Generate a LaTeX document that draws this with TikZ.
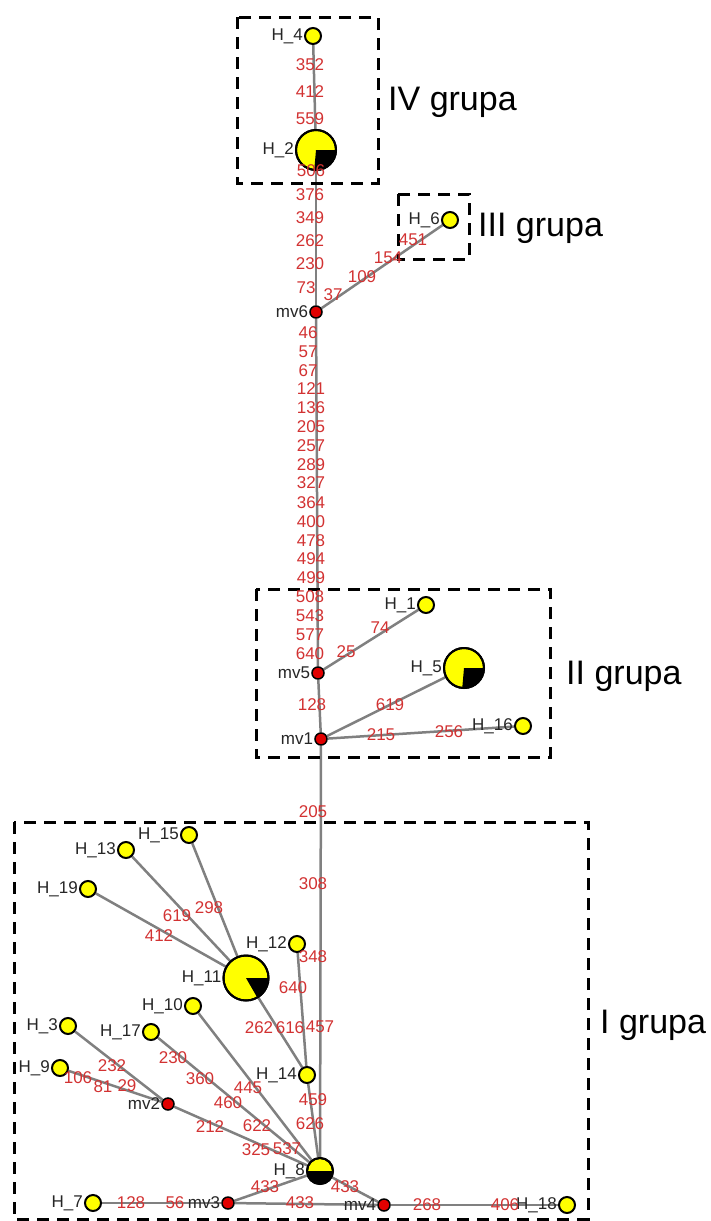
\documentclass[tikz,border=0pt]{standalone}
\usepackage{fontspec}
\setmainfont{Liberation Sans}
\pgfdeclarelayer{bg}
\pgfsetlayers{bg,main}
\definecolor{labred}{RGB}{210,50,50}
\definecolor{edgegray}{RGB}{128,128,128}
\definecolor{nodered}{RGB}{225,0,0}
\definecolor{hyellow}{RGB}{255,255,0}
\tikzset{
 hap/.style={circle, draw=black, line width=2pt, fill=hyellow, minimum size=16pt, inner sep=0pt},
 mvnode/.style={circle, draw=black, line width=1.5pt, fill=nodered, minimum size=12pt, inner sep=0pt},
 nlab/.style={font=\fontsize{17}{17}\selectfont, text=black!85, inner sep=1pt},
 elab/.style={font=\fontsize{17}{17}\selectfont, text=labred, inner sep=0pt},
 conn/.style={draw=edgegray, line width=2.5pt},
 grpbox/.style={draw=black, line width=3pt, dash pattern=on 12pt off 8pt},
 grplab/.style={font=\fontsize{34}{34}\selectfont, anchor=west, inner sep=0pt},
}
\begin{document}
\begin{tikzpicture}[x=1pt,y=-1pt]
\useasboundingbox (0,0) rectangle (711,1221);
% group boxes
\draw[grpbox] (237,17) rectangle (378,183);
\draw[grpbox] (398,194) rectangle (469,259);
\draw[grpbox] (256,589) rectangle (550,757);
\draw[grpbox] (14,822) rectangle (588,1219);
\node[grplab] (g4) at (388,102) {IV grupa};
\node[grplab] (g3) at (478,228) {III grupa};
\node[grplab] (g2) at (566,676) {II grupa};
\node[grplab] (g1) at (600,1025) {I grupa};
% haplotype nodes
\node[hap, label={[nlab]left:H\_4}] (H4) at (313,36) {};
\node[hap, minimum size=40pt, label={[nlab]left:H\_2}] (H2) at (316,150) {};
\node[mvnode, label={[nlab]left:mv6}] (mv6) at (316,312) {};
\node[hap, label={[nlab]left:H\_6}] (H6) at (450,220) {};
\node[mvnode, label={[nlab]left:mv5}] (mv5) at (318,673) {};
\node[hap, label={[nlab]left:H\_1}] (H1) at (426,605) {};
\node[hap, minimum size=40pt, label={[nlab]left:H\_5}] (H5) at (464,668) {};
\node[mvnode, label={[nlab]left:mv1}] (mv1) at (321,739) {};
\node[hap, label={[nlab]left:H\_16}] (H16) at (523,726) {};
\node[hap, minimum size=26pt, label={[nlab]left:H\_8}] (H8) at (320,1171) {};
\node[hap, label={[nlab]left:H\_14}] (H14) at (307,1075) {};
\node[hap, label={[nlab]left:H\_12}] (H12) at (297,944) {};
\node[hap, minimum size=45pt, label={[nlab]left:H\_11}] (H11) at (246,978) {};
\node[hap, label={[nlab]left:H\_13}] (H13) at (126,850) {};
\node[hap, label={[nlab]left:H\_15}] (H15) at (189,835) {};
\node[hap, label={[nlab]left:H\_19}] (H19) at (88,889) {};
\node[hap, label={[nlab]left:H\_10}] (H10) at (193,1006) {};
\node[hap, label={[nlab]left:H\_17}] (H17) at (151,1032) {};
\node[hap, label={[nlab]left:H\_3}] (H3) at (68,1026) {};
\node[hap, label={[nlab]left:H\_9}] (H9) at (60,1068) {};
\node[mvnode, label={[nlab]left:mv2}] (mv2) at (168,1104) {};
\node[hap, label={[nlab]left:H\_7}] (H7) at (93,1203) {};
\node[mvnode, label={[nlab]left:mv3}] (mv3) at (228,1203) {};
\node[mvnode, label={[nlab]left:mv4}] (mv4) at (384,1205) {};
\node[hap, label={[nlab]left:H\_18}] (H18) at (567,1205) {};
% pie sectors
\fill[black] (H2.center) -- ++(0:20pt) arc[start angle=0, end angle=-95, radius=20pt] -- cycle;
\draw[line width=2pt] (H2.center) circle[radius=20pt];
\fill[black] (H5.center) -- ++(0:20pt) arc[start angle=0, end angle=-95, radius=20pt] -- cycle;
\draw[line width=2pt] (H5.center) circle[radius=20pt];
\fill[black] (H11.center) -- ++(0:22.5pt) arc[start angle=0, end angle=-60, radius=22.5pt] -- cycle;
\draw[line width=2pt] (H11.center) circle[radius=22.5pt];
\fill[black] (H8.center) ++(13pt,0pt) arc[start angle=0, end angle=-180, radius=13pt] -- cycle;
\draw[line width=2pt] (H8.center) circle[radius=13pt];
% connectors
\begin{pgfonlayer}{bg}
\draw[conn] (H4) -- (H2);
\draw[conn] (H2) -- (mv6);
\draw[conn] (mv6) -- (H6);
\draw[conn] (mv6) -- (mv5);
\draw[conn] (mv5) -- (H1);
\draw[conn] (mv5) -- (mv1);
\draw[conn] (mv1) -- (H5);
\draw[conn] (mv1) -- (H16);
\draw[conn] (mv1) -- (H8);
\draw[conn] (H12) -- (H14);
\draw[conn] (H11) -- (H14);
\draw[conn] (H14) -- (H8);
\draw[conn] (H13) -- (H11);
\draw[conn] (H15) -- (H11);
\draw[conn] (H19) -- (H11);
\draw[conn] (H10) -- (H8);
\draw[conn] (H17) -- (H8);
\draw[conn] (mv2) -- (H8);
\draw[conn] (H3) -- (mv2);
\draw[conn] (H9) -- (mv2);
\draw[conn] (H7) -- (mv3);
\draw[conn] (mv3) -- (H8);
\draw[conn] (mv3) -- (mv4);
\draw[conn] (H8) -- (mv4);
\draw[conn] (mv4) -- (H18);
\end{pgfonlayer}
% mutation labels
\foreach \t/\x/\y [count=\i] in {
 352/310/65, 412/310/92, 559/310/119,
 506/311/171, 376/310/195, 349/310/218, 262/310/241, 230/310/264, 73/306/288,
 37/333/295, 109/362/277, 154/388/258, 451/413/240,
 46/308/333, 57/308/352, 67/308/371, 121/311/389, 136/311/408, 205/311/427,
 257/311/446, 289/311/465, 327/311/483, 364/311/503, 400/311/522, 478/311/541,
 494/311/559, 499/311/578, 508/310/597, 543/310/616, 577/310/635, 640/310/654,
 25/346/652, 74/380/628, 128/312/705, 619/390/705, 215/381/735, 256/449/732,
 205/313/812, 308/313/884, 348/313/957, 457/320/1027,
 640/293/988, 616/290/1028, 262/259/1028, 459/313/1100, 626/310/1124,
 619/177/916, 298/209/908, 412/159/936, 445/248/1088,
 230/173/1058, 360/200/1079, 460/228/1103, 622/257/1126, 537/287/1149,
 212/210/1127, 325/256/1150, 232/112/1066, 106/78/1078, 81/103/1087, 29/127/1086,
 128/131/1203, 56/175/1203, 433/265/1187, 433/300/1203, 433/345/1187,
 268/427/1205, 406/505/1205}
 \node[elab] (e\i) at (\x,\y) {\t};
\end{tikzpicture}
\end{document}
